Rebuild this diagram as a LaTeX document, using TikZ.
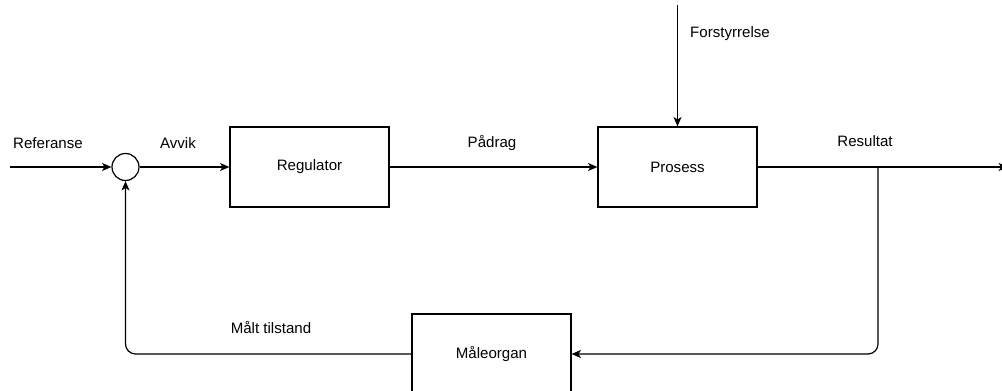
\documentclass[tikz,border=0pt]{standalone}
\usepackage{fontspec}
\setmainfont{Liberation Sans}
\usetikzlibrary{arrows.meta}
\tikzset{
  blokk/.style={draw, minimum width=119.25pt, minimum height=60pt, inner sep=0pt},
  sumpunkt/.style={draw, circle, minimum size=20.25pt, inner sep=0pt},
  pil/.style={-{Stealth[length=7pt,width=6pt,inset=1.8pt]}},
}
\begin{document}
\begin{tikzpicture}[x=0.75pt,y=-0.75pt,font=\fontsize{11.3}{13}\selectfont,line width=0.9pt]
    \useasboundingbox (0,0) rectangle (1002,391);
    \clip (0,0) rectangle (1002,391);
    % blokker
    \node [blokk] (reg) at (309.5,167) {Regulator};
    \node [blokk] (pro) at (677.5,167) {Prosess};
    \node [blokk] (maal) at (491.5,354) {Måleorgan};
    \node [sumpunkt] (sum) at (125.5,167) {};
    \coordinate (inn) at (10,167);
    \coordinate (ut) at (1008,167);
    \coordinate (forst) at (677.5,5);
    \coordinate (gren) at (878,167);
    % signaler
    \draw [pil] (inn) -- (sum);
    \draw [pil] (sum) -- (reg);
    \draw [pil] (reg) -- (pro);
    \draw [pil] (pro) -- (ut);
    \draw [pil] (forst) -- (pro);
    \draw [pil,rounded corners=7.5pt] (gren) |- (maal);
    \draw [pil,rounded corners=7.5pt] (maal.west) -| (sum);
    % tekster
    \node at (48,143) {Referanse};
    \node at (178,143) {Avvik};
    \node at (492,143) {Pådrag};
    \node at (865,141) {Resultat};
    \node at (730,34) {Forstyrrelse};
    \node at (271,328) {Målt tilstand};
  \end{tikzpicture}
\end{document}
